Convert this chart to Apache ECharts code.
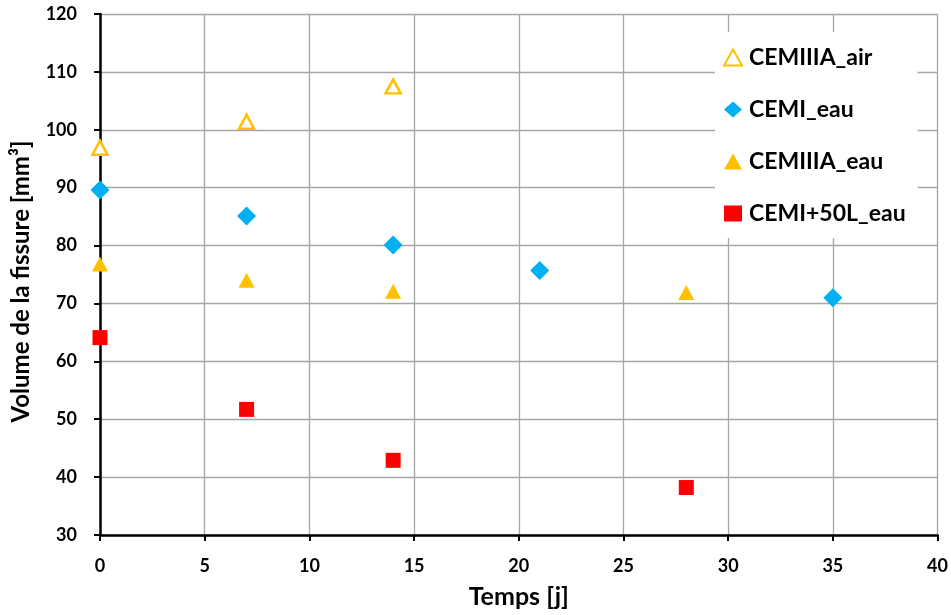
<!DOCTYPE html>
<html>
<head>
<meta charset="utf-8">
<script src="https://cdn.jsdelivr.net/npm/echarts@6/dist/echarts.min.js"></script>
<style>
  html, body { margin: 0; padding: 0; background: #fff; }
  #app { width: 951px; height: 615px; }
</style>
</head>
<body>
<div id="app"></div>
<script>
// values: [jours, volume mm3]
const cemIIIAAir = [[0, 96.9], [7, 101.4], [14, 107.5]];
const cemIEau = [[0, 89.6], [7, 85.1], [14, 80.1], [21, 75.7], [35, 71.0]];
const cemIIIAEau = [[0, 76.8], [7, 74.0], [14, 72.1], [28, 71.9]];
const cemI50LEau = [[0, 64.1], [7, 51.7], [14, 42.9], [28, 38.2]];

const FONT = "Lato";
const ORANGE = "#FFC000";
const BLUE = "#00B0F0";
const RED = "#FF0000";

function makeOptions() {
  return {
    backgroundColor: "#fff",
    animation: false,
    textStyle: { fontFamily: FONT },
    grid: { left: 100, right: 13, top: 14, bottom: 80 },
    legend: {
      orient: "vertical",
      left: 715,
      top: 32,
      padding: [14, 12, 13, 8],
      itemGap: 29,
      itemWidth: 18,
      itemHeight: 16,
      backgroundColor: "#fff",
      textStyle: { fontFamily: FONT, fontWeight: "bold", fontSize: 23, color: "#000", padding: [0, 0, 0, 2] },
      data: ["CEMIIIA_air", "CEMI_eau", "CEMIIIA_eau", "CEMI+50L_eau"]
    },
    xAxis: {
      type: "value",
      min: 0,
      max: 40,
      interval: 5,
      name: "Temps [j]",
      nameLocation: "middle",
      nameGap: 49,
      nameTextStyle: { fontFamily: FONT, fontWeight: "bold", fontSize: 25, color: "#000" },
      axisLine: { lineStyle: { color: "#000", width: 2.5 } },
      axisTick: { show: true, length: 6, lineStyle: { color: "#000", width: 2 } },
      axisLabel: { margin: 22, fontFamily: FONT, fontWeight: "bold", fontSize: 18, color: "#000" },
      splitLine: { show: true, lineStyle: { color: "#a6a6a6", width: 1.3 } }
    },
    yAxis: {
      type: "value",
      min: 30,
      max: 120,
      interval: 10,
      name: "Volume de la fissure [mm³]",
      nameLocation: "middle",
      nameGap: 67,
      nameTextStyle: { fontFamily: FONT, fontWeight: "bold", fontSize: 24, color: "#000", padding: [0, 14, 0, 0] },
      axisLine: { show: true, lineStyle: { color: "#000", width: 2.5 } },
      axisTick: { show: true, length: 6, lineStyle: { color: "#000", width: 2 } },
      axisLabel: { margin: 23, fontFamily: FONT, fontWeight: "bold", fontSize: 18, color: "#000" },
      splitLine: { show: true, lineStyle: { color: "#a6a6a6", width: 1.3 } }
    },
    series: [
      {
        name: "CEMIIIA_air",
        type: "scatter",
        symbol: "triangle",
        symbolSize: [15, 14],
        itemStyle: { color: "#fff", borderColor: ORANGE, borderWidth: 2.5, opacity: 1 },
        data: cemIIIAAir
      },
      {
        name: "CEMI_eau",
        type: "scatter",
        symbol: "diamond",
        symbolSize: [19, 19],
        itemStyle: { color: BLUE, opacity: 1 },
        data: cemIEau
      },
      {
        name: "CEMIIIA_eau",
        type: "scatter",
        symbol: "triangle",
        symbolSize: [16, 15],
        itemStyle: { color: ORANGE, opacity: 1 },
        data: cemIIIAEau
      },
      {
        name: "CEMI+50L_eau",
        type: "scatter",
        symbol: "rect",
        symbolSize: [15, 15],
        itemStyle: { color: RED, opacity: 1 },
        data: cemI50LEau
      }
    ]
  };
}

window.addEventListener("load", () => {
  const chart = echarts.init(document.getElementById("app"));
  chart.setOption(makeOptions());
});
</script>
</body>
</html>
